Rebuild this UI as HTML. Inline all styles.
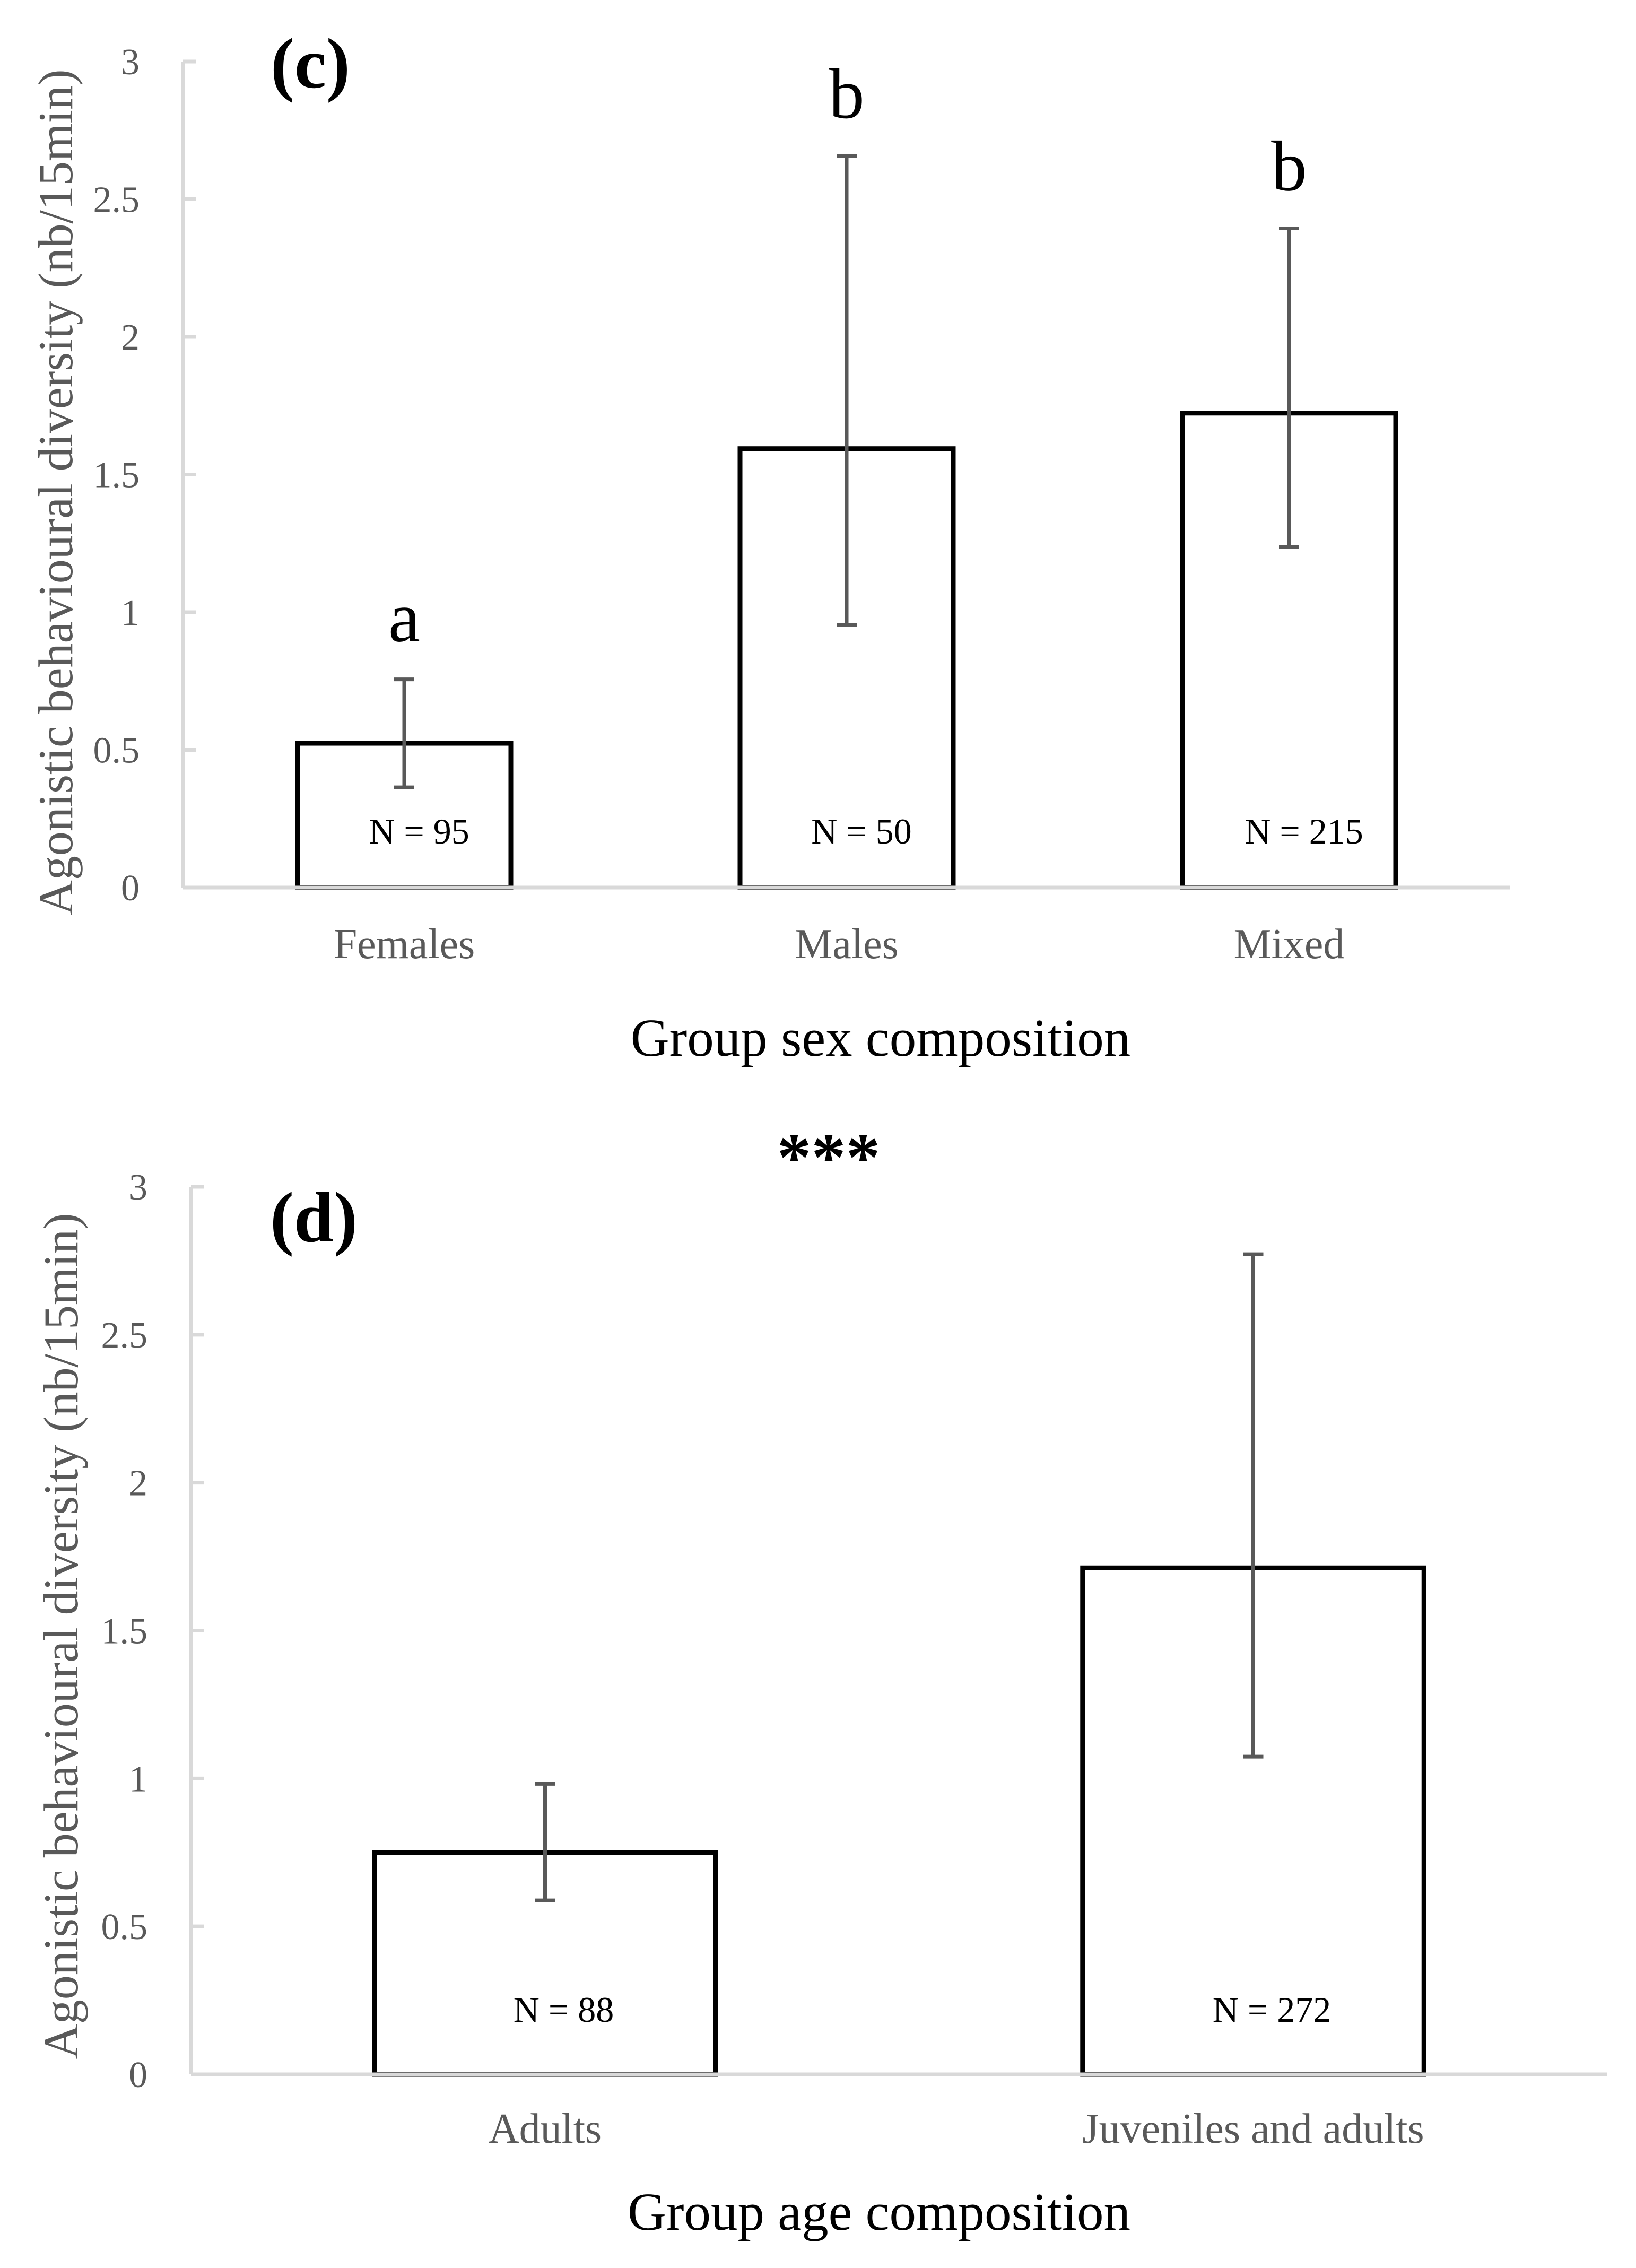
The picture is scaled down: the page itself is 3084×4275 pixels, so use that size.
<!DOCTYPE html>
<html><head><meta charset="utf-8"><style>
html,body{margin:0;padding:0;background:#fff}
svg{display:block}
text{font-family:"Liberation Serif",serif}
</style></head><body>
<svg id="fig" width="3084" height="4275" viewBox="0 0 3084 4275" xmlns="http://www.w3.org/2000/svg">
<rect width="3084" height="4275" fill="#fff"/>
</svg>
<script>
// Panel (c) data
const catsC = ["Females","Males","Mixed"];
const valsC = [0.524,1.594,1.723];
const errHiC = [0.756,2.657,2.394];
const errLoC = [0.364,0.954,1.238];
const nC = ["N = 95","N = 50","N = 215"];
const lettersC = ["a","b","b"];
// Panel (d) data
const catsD = ["Adults","Juveniles and adults"];
const valsD = [0.749,1.712];
const errHiD = [0.982,2.772];
const errLoD = [0.588,1.074];
const nD = ["N = 88","N = 272"];
const ticks = [0,0.5,1,1.5,2,2.5,3];
const tickLabels = ["0","0.5","1","1.5","2","2.5","3"];

const NS="http://www.w3.org/2000/svg";
const svg=document.getElementById('fig');
function mk(tag,attrs,parent,txt){const e=document.createElementNS(NS,tag);for(const k in attrs)e.setAttribute(k,attrs[k]);if(txt!=null)e.textContent=txt;(parent||svg).appendChild(e);return e;}

function panel(o){
  const g=mk('g',{});
  
  
  const y=v=>o.y0-(v/3)*(o.y0-o.y3);
  const n=o.cats.length, cw=(o.x1-o.x0)/n, bw=cw*0.482;
  const cx=i=>o.x0+cw*(i+0.5);
  const ya=mk('line',{x1:o.x0,y1:o.y3,x2:o.x0,y2:o.y0,stroke:'#d9d9d9','stroke-width':7},g);
  
  
  ticks.forEach((t,i)=>{
    const tk=mk('line',{x1:o.x0,y1:y(t),x2:o.x0+24,y2:y(t),stroke:'#d9d9d9','stroke-width':7},g);
    
    
    const tl=mk('text',{x:o.x0-82,y:y(t)+24,'text-anchor':'end','font-size':70,fill:'#595959'},g,tickLabels[i]);
    
    
  });
  o.vals.forEach((v,i)=>{
    const b=mk('rect',{x:cx(i)-bw/2,y:y(v),width:bw,height:o.y0-y(v),fill:'#fff',stroke:'#000','stroke-width':9},g);
    
    
    const e=mk('path',{d:`M${cx(i)} ${y(o.hi[i])}V${y(o.lo[i])}M${cx(i)-19} ${y(o.hi[i])}H${cx(i)+19}M${cx(i)-19} ${y(o.lo[i])}H${cx(i)+19}`,stroke:'#595959','stroke-width':7,fill:'none'},g);
    
    
    const nl=mk('text',{x:cx(i)+o.nOff,y:o.nBase,'text-anchor':'middle','font-size':68,fill:'#000'},g,o.ns[i]);
    
    
    const cl=mk('text',{x:cx(i),y:o.catBase,'text-anchor':'middle','font-size':80,fill:'#595959'},g,o.cats[i]);
    
    
    if(o.letters){
      const lb=mk('text',{x:cx(i),y:y(o.hi[i])-72,'text-anchor':'middle','font-size':135,fill:'#000'},g,o.letters[i]);
      
      
    }
  });
  const xa=mk('line',{x1:o.x0,y1:o.y0,x2:o.x1,y2:o.y0,stroke:'#d9d9d9','stroke-width':7},g);
  
  
  const xt=mk('text',{x:o.titleX,y:o.titleBase,'text-anchor':'middle','font-size':101,fill:'#000'},g,o.xtitle);
  
  
  const yt=mk('text',{x:0,y:0,'text-anchor':'middle','font-size':92,fill:'#595959',textLength:1595,lengthAdjust:'spacingAndGlyphs',transform:`translate(${o.ytx},${o.yty}) rotate(-90)`},g,'Agonistic behavioural diversity (nb/15min)');
  
  
  const pl=mk('text',{x:o.plx,y:o.ply,'font-size':135,'font-weight':'bold',fill:'#000'},g,o.plabel);
  
  
}

panel({name:'panel-c-chart',cats:catsC,vals:valsC,hi:errHiC,lo:errLoC,ns:nC,letters:lettersC,
  x0:345,x1:2847,y0:1673,y3:116,nOff:28,nBase:1590,catBase:1806,titleBase:1990,titleX:1660,
  xtitle:'Group sex composition',ytx:136,yty:928,plx:510,ply:165,plabel:'(c)'});
panel({name:'panel-d-chart',cats:catsD,vals:valsD,hi:errHiD,lo:errLoD,ns:nD,letters:null,
  x0:360,x1:3030,y0:3910,y3:2237,nOff:35,nBase:3811,catBase:4039,titleBase:4203,titleX:1657,
  xtitle:'Group age composition',ytx:146,yty:3084,plx:509,ply:2340,plabel:'(d)'});
const st=mk('text',{x:1562,y:2225,'text-anchor':'middle','font-size':130,'font-weight':'bold',fill:'#000'},svg,'***');


</script>
</body></html>
